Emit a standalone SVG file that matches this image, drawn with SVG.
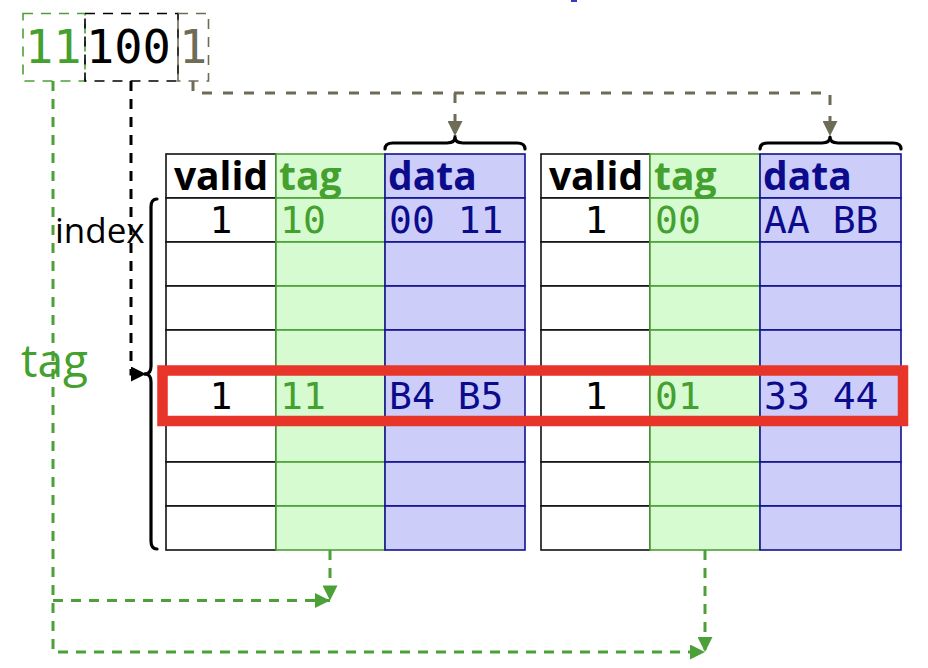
<svg xmlns="http://www.w3.org/2000/svg" width="928" height="668" viewBox="0 0 928 668">
<style>
.vc{fill:#ffffff;stroke:#111111;stroke-width:1.6}
.tc{fill:#d6fbd0;stroke:#4ca038;stroke-width:1.6}
.dc{fill:#cdcdfa;stroke:#12128f;stroke-width:1.6}
.hdr{font-family:"Open Sans","Noto Sans","DejaVu Sans",sans-serif;font-weight:bold;font-size:39px}
.mono{font-family:"DejaVu Sans Mono","Liberation Mono",monospace;font-size:38px}
.sans{font-family:"Open Sans","Noto Sans","DejaVu Sans",sans-serif}
.blk{fill:#000000}
.grn{fill:#44a02f}
.nav{fill:#0b0b8c}
.gry{fill:#6e6b56}
.brace{fill:none;stroke:#000000;stroke-width:3.2;stroke-linejoin:round;stroke-linecap:round}
.gd{fill:none;stroke:#4ca038;stroke-width:3;stroke-dasharray:10 8}
.kd{fill:none;stroke:#000000;stroke-width:3;stroke-dasharray:10 8}
.ad{fill:none;stroke:#6e6b56;stroke-width:3;stroke-dasharray:10 11}
</style>
<defs>
<marker id="ag" viewBox="0 0 10 10" refX="10" refY="5" markerWidth="17" markerHeight="15" markerUnits="userSpaceOnUse" orient="auto"><path d="M0,0 L10,5 L0,10 z" fill="#4ca038"/></marker>
<marker id="ak" viewBox="0 0 10 10" refX="10" refY="5" markerWidth="17" markerHeight="15" markerUnits="userSpaceOnUse" orient="auto"><path d="M0,0 L10,5 L0,10 z" fill="#000000"/></marker>
<marker id="aa" viewBox="0 0 10 10" refX="10" refY="5" markerWidth="17" markerHeight="15" markerUnits="userSpaceOnUse" orient="auto"><path d="M0,0 L10,5 L0,10 z" fill="#6e6b56"/></marker>
</defs>
<rect width="928" height="668" fill="#ffffff"/>
<rect x="571" y="0" width="6" height="2" fill="#3a3ac0"/>

<g id="address">
<rect x="23" y="13.5" width="62" height="67.5" fill="none" stroke="#4ca038" stroke-width="1.6" stroke-dasharray="10 8"/>
<rect x="85" y="13.5" width="93" height="67.5" fill="none" stroke="#000000" stroke-width="1.6" stroke-dasharray="10 8"/>
<rect x="178" y="13.5" width="30.5" height="67.5" fill="none" stroke="#6e6b56" stroke-width="1.6" stroke-dasharray="10 8"/>
<text x="25" y="63" class="mono grn" style="font-size:47px">11</text>
<text x="86" y="63" class="mono blk" style="font-size:47px">100</text>
<text x="179" y="63" class="mono gry" style="font-size:47px">1</text>
</g>

<g id="connectors">
<path class="ad" d="M193,81 V93 H830 V136" marker-end="url(#aa)"/>
<path class="ad" d="M455,93 V136" marker-end="url(#aa)"/>
<path class="kd" d="M131,81 V374 H146" marker-end="url(#ak)"/>
<path class="gd" d="M53,81 V652 H705" marker-end="url(#ag)"/>
<path class="gd" d="M53,600.5 H330" marker-end="url(#ag)"/>
<path class="gd" d="M330,550 V600.5" marker-end="url(#ag)"/>
<path class="gd" d="M705,550 V652" marker-end="url(#ag)"/>
</g>

<g id="index-label">
<text x="55" y="243" class="sans blk" style="font-size:35px">index</text>
<path class="brace" d="M157,199 Q151,199 151,207 V366 Q151,374 145,374 Q151,374 151,382 V541 Q151,549 157,549"/>
</g>

<g id="tag-label">
<text x="21" y="377" class="sans grn" style="font-size:46px">tag</text>
</g>

<g id="brace1"><path class="brace" d="M385,149 Q385,143 393,143 H447 Q455,143 455,137 Q455,143 463,143 H517 Q525,143 525,149"/></g>
<g id="brace2"><path class="brace" d="M760,149 Q760,143 768,143 H822 Q830,143 830,137 Q830,143 838,143 H893 Q901,143 901,149"/></g>

<g id="table1">
<rect class="vc" x="166" y="154" width="110" height="44"/>
<rect class="vc" x="166" y="198" width="110" height="44"/>
<rect class="vc" x="166" y="242" width="110" height="44"/>
<rect class="vc" x="166" y="286" width="110" height="44"/>
<rect class="vc" x="166" y="330" width="110" height="44"/>
<rect class="vc" x="166" y="374" width="110" height="44"/>
<rect class="vc" x="166" y="418" width="110" height="44"/>
<rect class="vc" x="166" y="462" width="110" height="44"/>
<rect class="vc" x="166" y="506" width="110" height="44"/>
<rect class="tc" x="276" y="154" width="109" height="44"/>
<rect class="tc" x="276" y="198" width="109" height="44"/>
<rect class="tc" x="276" y="242" width="109" height="44"/>
<rect class="tc" x="276" y="286" width="109" height="44"/>
<rect class="tc" x="276" y="330" width="109" height="44"/>
<rect class="tc" x="276" y="374" width="109" height="44"/>
<rect class="tc" x="276" y="418" width="109" height="44"/>
<rect class="tc" x="276" y="462" width="109" height="44"/>
<rect class="tc" x="276" y="506" width="109" height="44"/>
<rect class="dc" x="385" y="154" width="140" height="44"/>
<rect class="dc" x="385" y="198" width="140" height="44"/>
<rect class="dc" x="385" y="242" width="140" height="44"/>
<rect class="dc" x="385" y="286" width="140" height="44"/>
<rect class="dc" x="385" y="330" width="140" height="44"/>
<rect class="dc" x="385" y="374" width="140" height="44"/>
<rect class="dc" x="385" y="418" width="140" height="44"/>
<rect class="dc" x="385" y="462" width="140" height="44"/>
<rect class="dc" x="385" y="506" width="140" height="44"/>
<text x="221" y="190" class="hdr blk" text-anchor="middle">valid</text>
<text x="279" y="190" class="hdr grn">tag</text>
<text x="388" y="190" class="hdr nav">data</text>
<text x="221" y="233" class="mono blk" text-anchor="middle">1</text>
<text x="280" y="233" class="mono grn">10</text>
<text x="389" y="233" class="mono nav">00 11</text>
<text x="221" y="409" class="mono blk" text-anchor="middle">1</text>
<text x="280" y="409" class="mono grn">11</text>
<text x="389" y="409" class="mono nav">B4 B5</text>
</g>

<g id="table2">
<rect class="vc" x="541" y="154" width="109" height="44"/>
<rect class="vc" x="541" y="198" width="109" height="44"/>
<rect class="vc" x="541" y="242" width="109" height="44"/>
<rect class="vc" x="541" y="286" width="109" height="44"/>
<rect class="vc" x="541" y="330" width="109" height="44"/>
<rect class="vc" x="541" y="374" width="109" height="44"/>
<rect class="vc" x="541" y="418" width="109" height="44"/>
<rect class="vc" x="541" y="462" width="109" height="44"/>
<rect class="vc" x="541" y="506" width="109" height="44"/>
<rect class="tc" x="650" y="154" width="110" height="44"/>
<rect class="tc" x="650" y="198" width="110" height="44"/>
<rect class="tc" x="650" y="242" width="110" height="44"/>
<rect class="tc" x="650" y="286" width="110" height="44"/>
<rect class="tc" x="650" y="330" width="110" height="44"/>
<rect class="tc" x="650" y="374" width="110" height="44"/>
<rect class="tc" x="650" y="418" width="110" height="44"/>
<rect class="tc" x="650" y="462" width="110" height="44"/>
<rect class="tc" x="650" y="506" width="110" height="44"/>
<rect class="dc" x="760" y="154" width="141" height="44"/>
<rect class="dc" x="760" y="198" width="141" height="44"/>
<rect class="dc" x="760" y="242" width="141" height="44"/>
<rect class="dc" x="760" y="286" width="141" height="44"/>
<rect class="dc" x="760" y="330" width="141" height="44"/>
<rect class="dc" x="760" y="374" width="141" height="44"/>
<rect class="dc" x="760" y="418" width="141" height="44"/>
<rect class="dc" x="760" y="462" width="141" height="44"/>
<rect class="dc" x="760" y="506" width="141" height="44"/>
<text x="596" y="190" class="hdr blk" text-anchor="middle">valid</text>
<text x="654" y="190" class="hdr grn">tag</text>
<text x="763" y="190" class="hdr nav">data</text>
<text x="596" y="233" class="mono blk" text-anchor="middle">1</text>
<text x="655" y="233" class="mono grn">00</text>
<text x="764" y="233" class="mono nav">AA BB</text>
<text x="596" y="409" class="mono blk" text-anchor="middle">1</text>
<text x="655" y="409" class="mono grn">01</text>
<text x="764" y="409" class="mono nav">33 44</text>
</g>

<g id="highlight">
<rect x="162.5" y="370.5" width="740.5" height="50.5" fill="none" stroke="#e8352a" stroke-width="10.5"/>
</g>
</svg>
